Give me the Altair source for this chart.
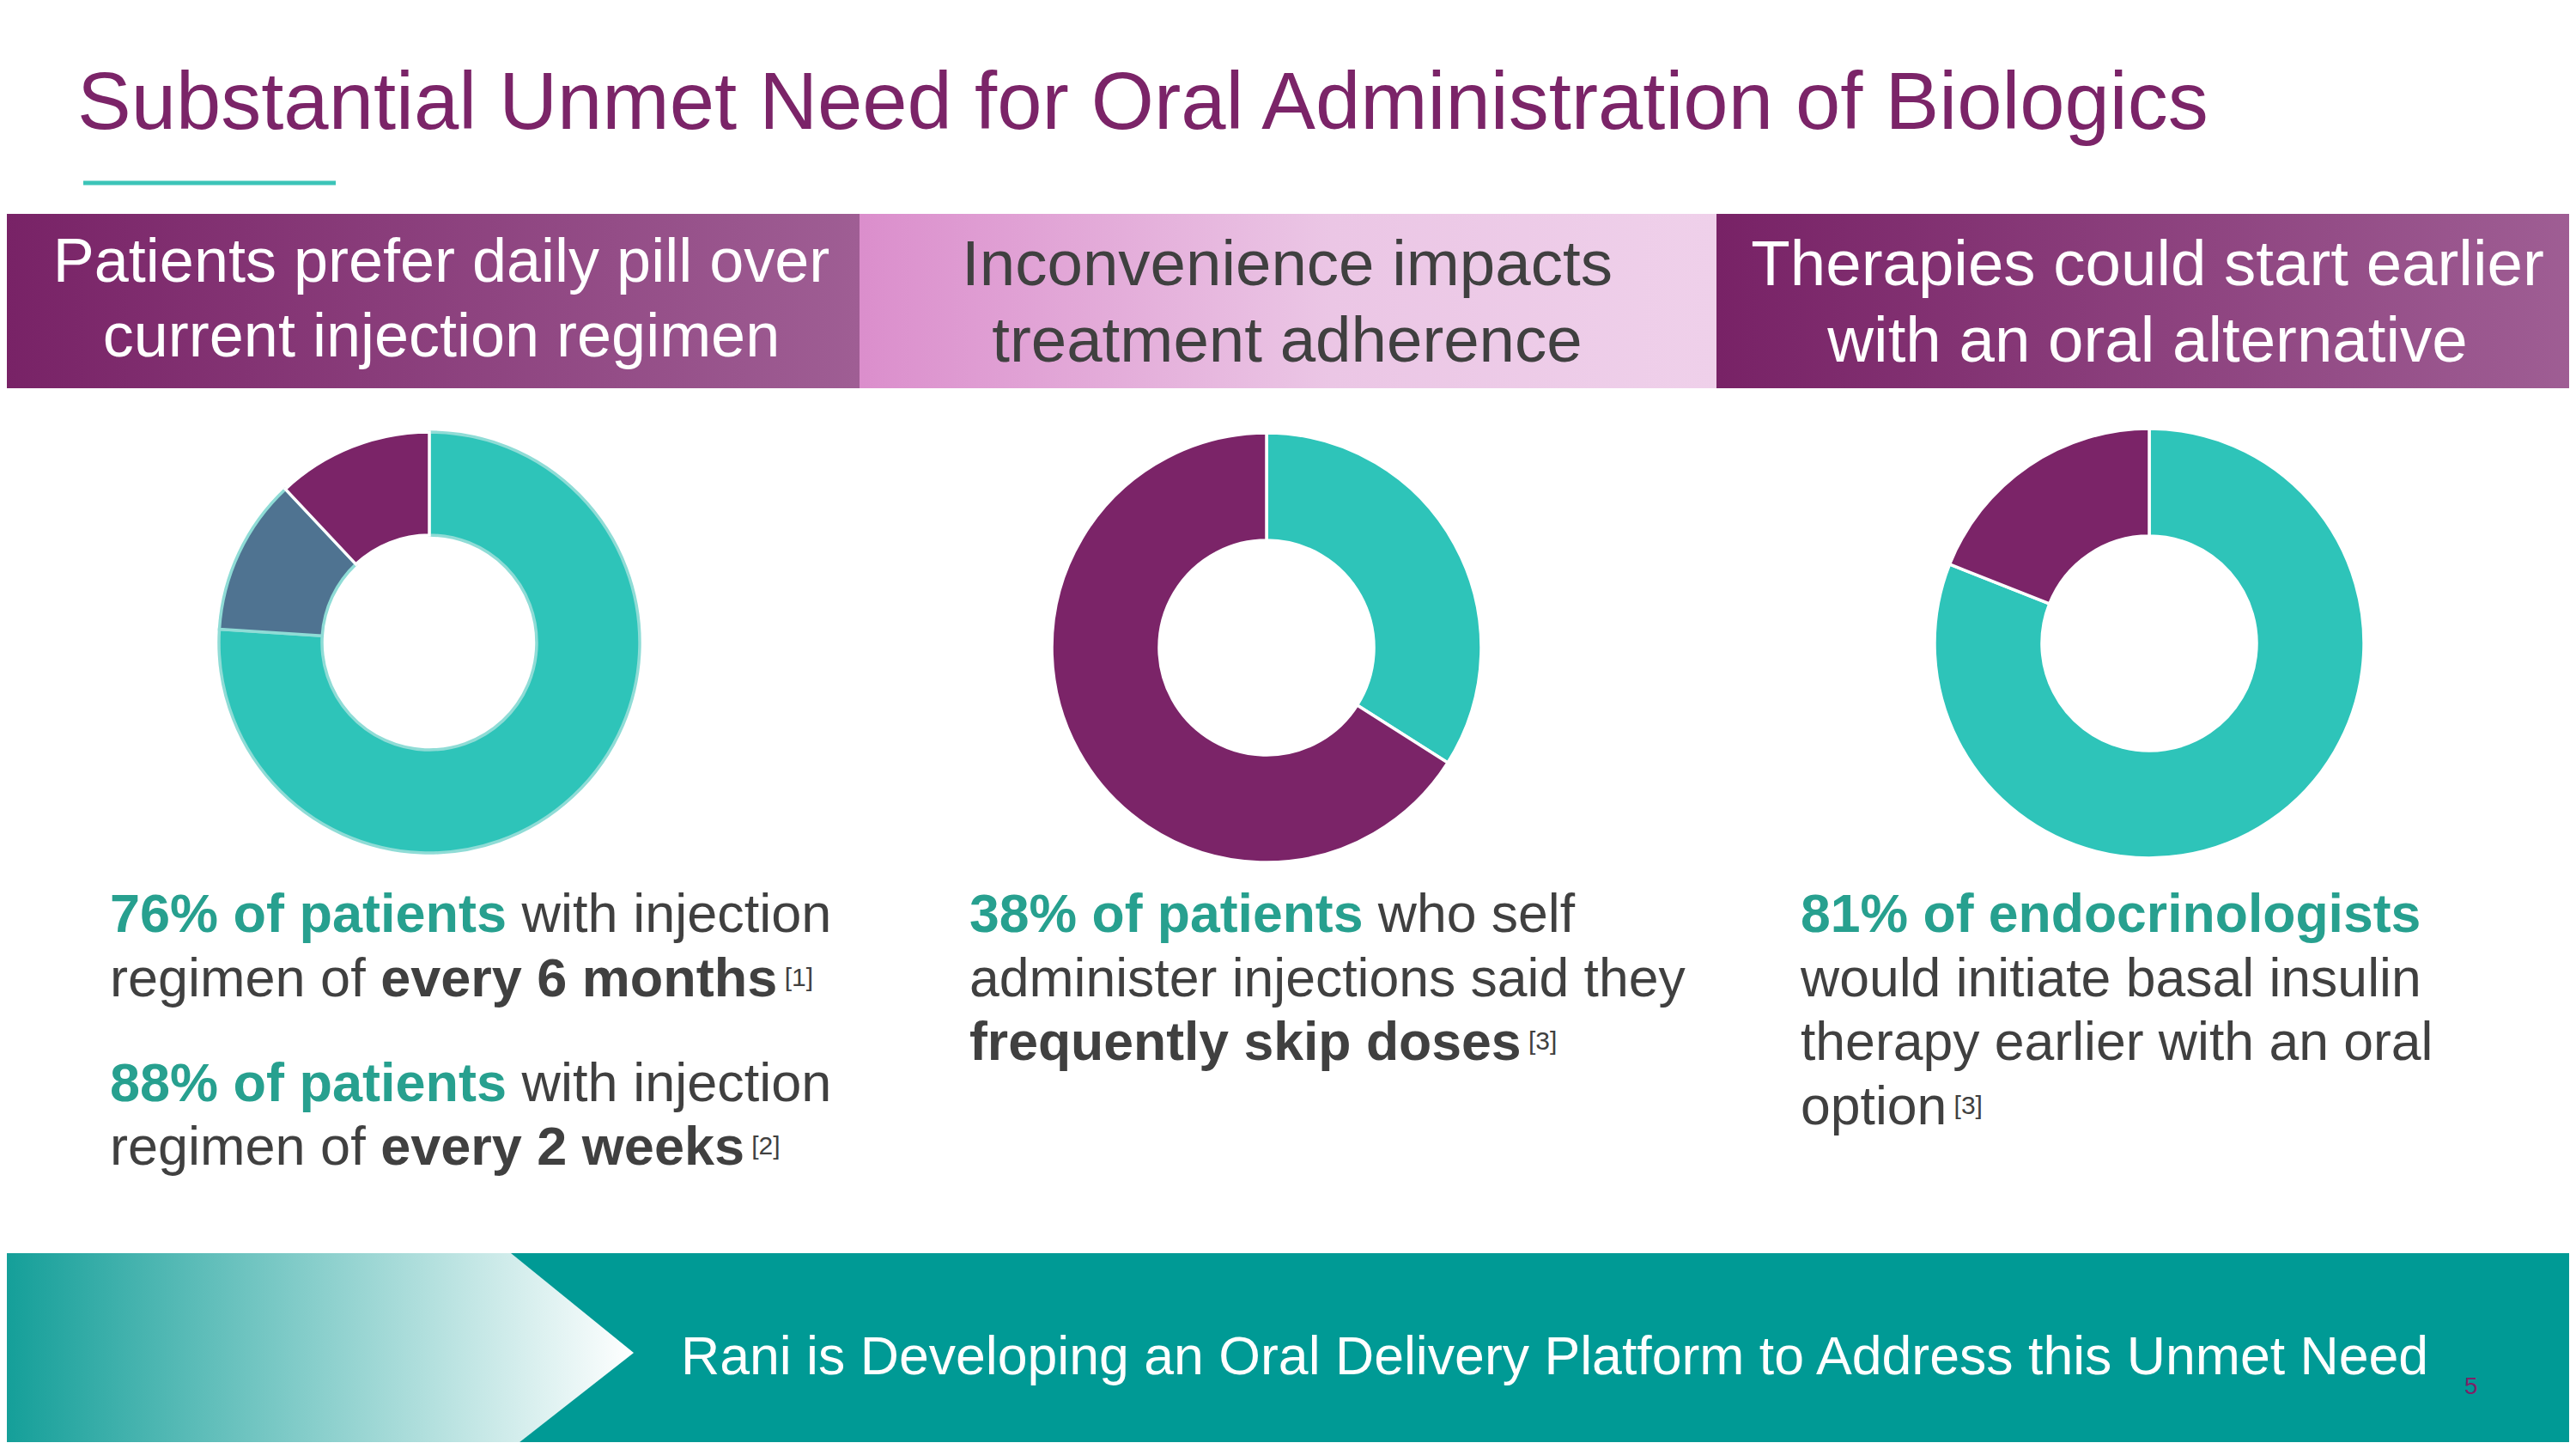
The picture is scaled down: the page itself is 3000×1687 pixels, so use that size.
import altair as alt
import pandas as pd

# ---------------- data (text and values) ----------------
TITLE = "Substantial Unmet Need for Oral Administration of Biologics"
HEADER_LINES = [
    ["Patients prefer daily pill over", "current injection regimen"],
    ["Inconvenience impacts", "treatment adherence"],
    ["Therapies could start earlier", "with an oral alternative"],
]
DONUT_SEGMENTS = [["teal", "slate", "purple"], ["teal", "purple"], ["teal", "purple"]]
DONUT_VALUES = [[76, 12, 12], [34, 66], [81, 19]]

# each line = list of (text, kind); kind: hl (teal bold), reg, bold, sup
BODY_COL1 = [
    [("76% of patients", "hl"), (" with injection", "reg")],
    [("regimen of ", "reg"), ("every 6 months", "bold"), (" ", "sup"), ("[1]", "sup")],
    [("88% of patients", "hl"), (" with injection", "reg")],
    [("regimen of ", "reg"), ("every 2 weeks", "bold"), (" ", "sup"), ("[2]", "sup")],
]
BODY_COL2 = [
    [("38% of patients", "hl"), (" who self", "reg")],
    [("administer injections said they", "reg")],
    [("frequently skip doses", "bold"), (" ", "sup"), ("[3]", "sup")],
]
BODY_COL3 = [
    [("81% of endocrinologists", "hl")],
    [("would initiate basal insulin", "reg")],
    [("therapy earlier with an oral", "reg")],
    [("option", "reg"), (" ", "sup"), ("[3]", "sup")],
]
BANNER_TEXT = "Rani is Developing an Oral Delivery Platform to Address this Unmet Need"
PAGE_NUMBER = "5"

# ---------------- layout / style ----------------
FONT = "Liberation Sans"
PURPLE = "#7b2468"
TEAL = "#2ec4b9"
SLATE = "#4f7391"
LIGHT_TEAL = "#8fdcd6"
TEXT_TEAL = "#27a08f"
GRAY = "#404040"
BANNER = "#009a95"

PAGE_W, PAGE_H, MARGIN = 3000, 1687, 8
XS = alt.Scale(domain=[MARGIN, PAGE_W - MARGIN], nice=False, zero=False)
YS = alt.Scale(domain=[MARGIN, PAGE_H - MARGIN], nice=False, zero=False, reverse=True)

TONE_SCALE = alt.Scale(
    domain=["teal", "slate", "purple", "white", "gray", "hl"],
    range=[TEAL, SLATE, PURPLE, "#ffffff", GRAY, TEXT_TEAL],
)
EDGE_SCALE = alt.Scale(domain=["soft", "white"], range=[LIGHT_TEAL, "#ffffff"])

TITLE_POS = (90, 150, 94)
UNDERLINE = dict(x=97, x2=391, y=213)
BARS_OUTER = dict(x=[0, 1999], x2=[1001, 3000], y=[249, 249], y2=[452, 452])
BAR_MIDDLE = dict(x=[1001], x2=[1999], y=[249], y2=[452])
HEADER_CX = [514, 1499, 2501]
HEADER_BASE = [[328, 415], [332, 421], [332, 421]]
HEADER_TONE = ["white", "gray", "white"]
HEADER_SIZE = [72, 74.5, 74.5]

DONUT_CENTERS = [(500, 748), (1475, 754), (2503, 749)]
DONUT_OUTER = [245, 250, 250]
DONUT_INNER = 125
DONUT_EDGES = [["soft", "soft", "white"], ["white", "white"], ["white", "white"]]

COL_X = [128, 1129, 2097]
COL_BASE = [[1085, 1160, 1282, 1356], [1085, 1160, 1234], [1085, 1160, 1234, 1309]]
BODY_SIZE = [63, 62.5, 62.5]
SUP_SIZE, SUP_RISE = 30, 12

BANNER_BOX = dict(x=[0], x2=[3000], y=[1459], y2=[1687])
CHEVRON = dict(x=[0, 595, 738], top=[1459, 1459, 1575], bottom=[1687, 1687, 1575])
BANNER_TEXT_POS = (793, 1600, 62.6)
PAGE_NUM_POS = (2870, 1623, 28)

# Arial / Liberation Sans advance widths (1/1000 em)
REG_W = {' ': 278, '%': 889, '[': 278, ']': 278, 'a': 556, 'b': 556, 'c': 500, 'd': 556,
         'e': 556, 'f': 278, 'g': 556, 'h': 556, 'i': 222, 'j': 222, 'k': 500, 'l': 222,
         'm': 833, 'n': 556, 'o': 556, 'p': 556, 'q': 556, 'r': 333, 's': 500, 't': 278,
         'u': 556, 'v': 500, 'w': 722, 'x': 500, 'y': 500, 'z': 500}
BOLD_W = {' ': 278, '%': 889, '[': 333, ']': 333, 'a': 556, 'b': 611, 'c': 556, 'd': 611,
          'e': 556, 'f': 333, 'g': 611, 'h': 611, 'i': 278, 'j': 278, 'k': 556, 'l': 278,
          'm': 889, 'n': 611, 'o': 611, 'p': 611, 'q': 611, 'r': 389, 's': 556, 't': 333,
          'u': 611, 'v': 556, 'w': 778, 'x': 556, 'y': 556, 'z': 500}


def text_width(s, bold, size):
    table = BOLD_W if bold else REG_W
    return sum(table.get(c, 556) for c in s) * size / 1000.0


def X(field):
    return alt.X(f"{field}:Q", scale=XS, axis=None)


def Y(field):
    return alt.Y(f"{field}:Q", scale=YS, axis=None)


# ---------------- build text items ----------------
items = []  # text, x, y, fsize, tone, fweight, falign
items.append(dict(text=TITLE, x=TITLE_POS[0], y=TITLE_POS[1], fsize=TITLE_POS[2],
                  tone="purple", fweight="normal", falign="left"))
for i, lines in enumerate(HEADER_LINES):
    for j, line in enumerate(lines):
        items.append(dict(text=line, x=HEADER_CX[i], y=HEADER_BASE[i][j], fsize=HEADER_SIZE[i],
                          tone=HEADER_TONE[i], fweight="normal", falign="center"))

for col, lines in enumerate([BODY_COL1, BODY_COL2, BODY_COL3]):
    for li, runs in enumerate(lines):
        cursor = COL_X[col]
        base = COL_BASE[col][li]
        for txt, kind in runs:
            bold = kind in ("hl", "bold")
            size = SUP_SIZE if kind == "sup" else BODY_SIZE[col]
            core = txt.strip()
            lead = len(txt) - len(txt.lstrip(" "))
            trail = (len(txt) - len(txt.rstrip(" "))) if core else 0
            cursor += text_width(" " * lead, bold, size)
            if core:
                items.append(dict(text=core, x=cursor,
                                  y=base - (SUP_RISE if kind == "sup" else 0), fsize=size,
                                  tone="hl" if kind == "hl" else "gray",
                                  fweight="bold" if bold else "normal", falign="left"))
                cursor += text_width(core, bold, size)
            cursor += text_width(" " * trail, bold, size)

items.append(dict(text=BANNER_TEXT, x=BANNER_TEXT_POS[0], y=BANNER_TEXT_POS[1],
                  fsize=BANNER_TEXT_POS[2], tone="white", fweight="normal", falign="left"))
items.append(dict(text=PAGE_NUMBER, x=PAGE_NUM_POS[0], y=PAGE_NUM_POS[1], fsize=PAGE_NUM_POS[2],
                  tone="purple", fweight="normal", falign="left"))
text_df = pd.DataFrame(items)


def text_layer(weight, align):
    sub = text_df[(text_df["fweight"] == weight) & (text_df["falign"] == align)].reset_index(drop=True)
    return alt.Chart(sub).mark_text(font=FONT, fontWeight=weight, align=align,
                                    baseline="alphabetic").encode(
        x=X("x"), y=Y("y"), text="text:N",
        size=alt.Size("fsize:Q", scale=None),
        color=alt.Color("tone:N", scale=TONE_SCALE, legend=None),
    )


# ---------------- shapes ----------------
def grad(stops):
    return alt.LinearGradient(gradient="linear", x1=0, y1=0, x2=1, y2=0,
                              stops=[alt.GradientStop(color=c, offset=o) for o, c in stops])


outer_bars = alt.Chart(pd.DataFrame(BARS_OUTER)).mark_rect(
    fill=grad([(0, "#782266"), (1, "#9f5e94")])
).encode(x=X("x"), x2="x2", y=Y("y"), y2="y2")

middle_bar = alt.Chart(pd.DataFrame(BAR_MIDDLE)).mark_rect(
    fill=grad([(0, "#db8ecc"), (0.55, "#ebc6e5"), (1, "#efd0ea")])
).encode(x=X("x"), x2="x2", y=Y("y"), y2="y2")

underline = alt.Chart(pd.DataFrame({k: [v] for k, v in UNDERLINE.items()})).mark_rule(
    color="#3cc4b8", strokeWidth=5
).encode(x=X("x"), x2="x2", y=Y("y"))

banner = alt.Chart(pd.DataFrame(BANNER_BOX)).mark_rect(color=BANNER).encode(
    x=X("x"), x2="x2", y=Y("y"), y2="y2")

chevron = alt.Chart(pd.DataFrame(CHEVRON)).mark_area(
    fill=grad([(0, "#129e98"), (1, "#ffffff")]), interpolate="linear"
).encode(x=X("x"), y=Y("top"), y2="bottom")

donut_layers = []
for i, (segs, vals) in enumerate(zip(DONUT_SEGMENTS, DONUT_VALUES)):
    ddf = pd.DataFrame({
        "segment": segs, "value": vals, "ord": list(range(len(segs))),
        "edge": DONUT_EDGES[i],
        "cx": [DONUT_CENTERS[i][0]] * len(segs), "cy": [DONUT_CENTERS[i][1]] * len(segs),
    })
    donut_layers.append(
        alt.Chart(ddf).mark_arc(outerRadius=DONUT_OUTER[i], innerRadius=DONUT_INNER,
                                strokeWidth=3.5).encode(
            x=X("cx"), y=Y("cy"),
            theta=alt.Theta("value:Q", stack=True),
            order=alt.Order("ord:Q"),
            color=alt.Color("segment:N", scale=TONE_SCALE, legend=None),
            stroke=alt.Stroke("edge:N", scale=EDGE_SCALE, legend=None),
        )
    )

chart = alt.layer(
    outer_bars, middle_bar, underline, banner, chevron, *donut_layers,
    text_layer("normal", "left"), text_layer("normal", "center"), text_layer("bold", "left"),
).properties(
    width=PAGE_W - 2 * MARGIN, height=PAGE_H - 2 * MARGIN,
    autosize=alt.AutoSizeParams(type="none"), padding=0, background="#ffffff",
).configure_view(stroke=None)

chart.save("out.html", embed_options={"renderer": "svg", "actions": False})
